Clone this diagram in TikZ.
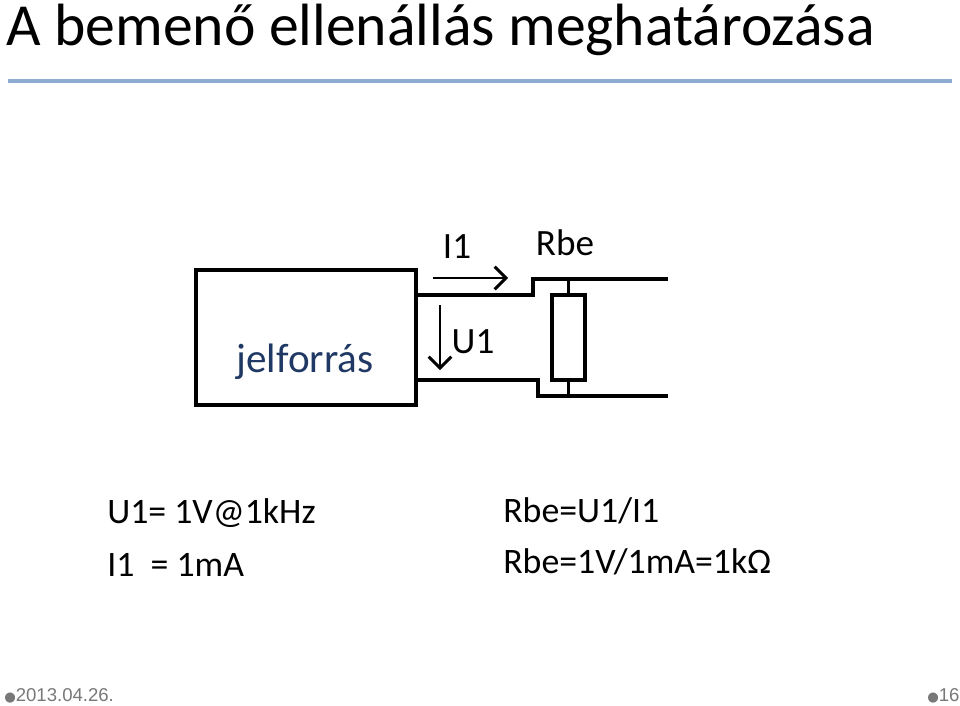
\documentclass[tikz,border=0pt]{standalone}
\usepackage{fontspec}
\setmainfont{Carlito}
\newfontfamily\footfont{Liberation Sans}
\newfontfamily\symfont{DejaVu Sans}
\usetikzlibrary{positioning,arrows.meta}
\definecolor{titleblue}{RGB}{140,172,212}
\definecolor{srcblue}{RGB}{31,56,100}
\definecolor{footgray}{RGB}{120,120,120}
\begin{document}
\begin{tikzpicture}[x=0.0265cm,y=-0.0265cm,
    lbl/.style={font=\fontsize{28}{32}\selectfont, inner sep=0pt},
    eq/.style={font=\fontsize{27}{32}\selectfont, anchor=west, inner sep=0pt},
    foot/.style={font=\footfont\fontsize{14}{16}\selectfont, text=footgray, anchor=west, inner sep=0pt}
  ]
\useasboundingbox (0,0) rectangle (960,705);
% title
\node (title) at (6,30) [anchor=west, inner sep=0pt, font=\fontsize{45}{50}\selectfont] {A bemenő ellenállás meghatározása};
\draw [titleblue, line width=2.4pt] (8,81) -- (952,81);

% source box
\node (src) at (306,337.5) [draw, line width=2.6pt, minimum width=220*0.0265cm, minimum height=135*0.0265cm] {};
\node (srclbl) at (305,362) [font=\fontsize{31}{34}\selectfont, inner sep=0pt, text=srcblue] {jelforrás};

% resistor
\node (rbe) at (568.5,337.5) [draw, line width=2.6pt, minimum width=33*0.0265cm, minimum height=85*0.0265cm] {};
\coordinate (t1) at (533,295);
\coordinate (t2) at (533,279);
\coordinate (t3) at (668,279);
\coordinate (b1) at (538,380);
\coordinate (b2) at (538,396);
\coordinate (b3) at (668,396);

%% wires
\draw [line width=2.6pt] (src.east |- t1) -- (t1) -- (t2) -- (t3);
\draw [line width=2.6pt] (src.east |- b1) -- (b1) -- (b2) -- (b3);
\draw [line width=2.6pt] (rbe.north) -- (rbe.north |- t2);
\draw [line width=2.6pt] (rbe.south) -- (rbe.south |- b2);

%% arrows
\coordinate (ia) at (433,278);
\coordinate (ib) at (508,278);
\draw [line width=2.2pt, -{Straight Barb[length=3mm]}] (ia) -- (ib);
\node (ilbl) at (457,247) [lbl] {I1};
\node (rlbl) at (565,243) [lbl] {Rbe};
\coordinate (ua) at (440,305);
\coordinate (ub) at (440,370);
\draw [line width=2.2pt, -{Straight Barb[length=3mm]}] (ua) -- (ub);
\node (ulbl) at (473,342) [lbl] {U1};

% equations
\node (eqa) at (107,513) [eq] {U1= 1V@1kHz};
\node (eqb) at (107,565) [eq] {I1 \ = 1mA};
\node (eqc) at (503,511) [eq] {Rbe=U1/I1};
\node (eqd) at (503,562) [eq] {Rbe=1V/1mA=1kΩ};

% footer
\node (date) at (4,696) [foot] {{\symfont\fontsize{10}{12}\selectfont ●}2013.04.26.};
\node (page) at (927,696) [foot] {{\symfont\fontsize{10}{12}\selectfont ●}16};
\end{tikzpicture}
\end{document}
